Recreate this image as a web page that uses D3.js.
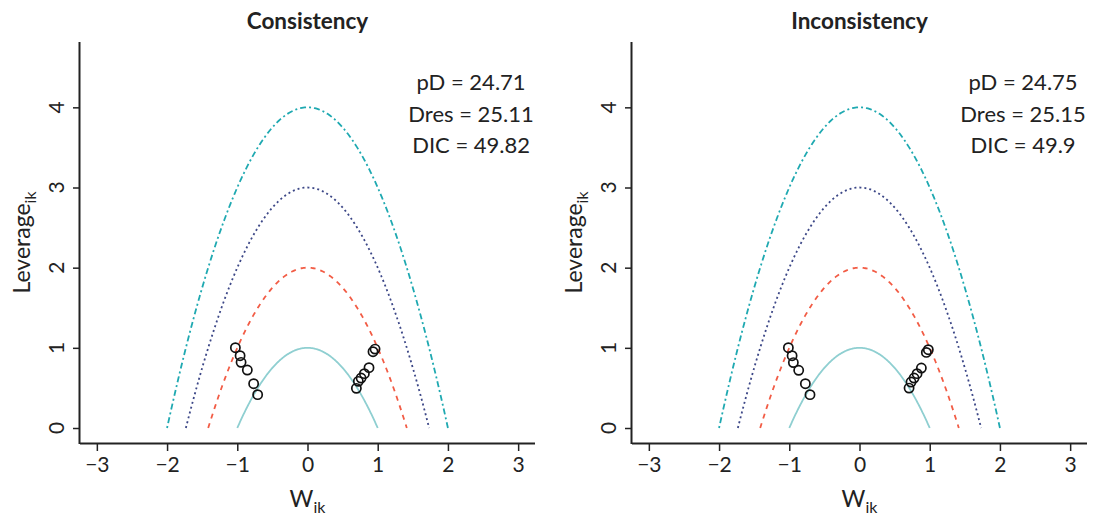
<!DOCTYPE html>
<html>
<head>
<meta charset="utf-8">
<script src="https://cdn.jsdelivr.net/npm/d3@7"></script>
<style>
  html, body { margin: 0; padding: 0; background: #fff; }
  svg { display: block; font-family: Lato, "Open Sans", sans-serif; }
</style>
</head>
<body>
<svg id="chart" width="1094" height="519"></svg>
<script>
// ---- data ----
const panelTitles = ["Consistency", "Inconsistency"];
const wConsistency   = [-1.027, -0.960, -0.946, -0.857, -0.767, -0.710, 0.962, 0.933, 0.876, 0.810, 0.763, 0.724, 0.696];
const levConsistency = [ 1.002,  0.902,  0.819,  0.723,  0.553,  0.416, 0.984, 0.952, 0.753, 0.678, 0.623, 0.582, 0.495];
const wInconsistency   = [-1.013, -0.960, -0.942, -0.866, -0.771, -0.705, 0.980, 0.952, 0.881, 0.820, 0.777, 0.734, 0.706];
const levInconsistency = [ 1.002,  0.902,  0.816,  0.720,  0.553,  0.416, 0.977, 0.943, 0.748, 0.678, 0.623, 0.573, 0.498];
const pDValues   = ["24.71", "24.75"];
const DresValues = ["25.11", "25.15"];
const DICValues  = ["49.82", "49.9"];
const xTicks = [-3, -2, -1, 0, 1, 2, 3];
const yTicks = [0, 1, 2, 3, 4];
const curveLevels = [1, 2, 3, 4];   // contours w^2 + leverage = c

// ---- styles ----
const curveStyle = {
  1: { color: "#8fcfd1", dash: null },
  2: { color: "#f25c45", dash: "5,5" },
  3: { color: "#3c4787", dash: "2,3" },
  4: { color: "#1fa9b1", dash: "2,3,6,3" }
};

const svg = d3.select("#chart");
const panelW = 455, plotTop = 42, plotBottom = 443;
const panelLefts = [80, 632];

const panels = [
  { title: panelTitles[0], w: wConsistency, lev: levConsistency, pD: pDValues[0], Dres: DresValues[0], DIC: DICValues[0] },
  { title: panelTitles[1], w: wInconsistency, lev: levInconsistency, pD: pDValues[1], Dres: DresValues[1], DIC: DICValues[1] }
];

panels.forEach((p, i) => {
  const left = panelLefts[i];
  const x = d3.scaleLinear().domain([-3.24, 3.24]).range([left, left + panelW]);
  const y = d3.scaleLinear().domain([-0.187, 4.815]).range([plotBottom, plotTop]);
  const g = svg.append("g");

  // curves
  curveLevels.forEach(c => {
    const lim = Math.sqrt(c);
    const ws = d3.range(0, 201).map(k => -lim + 2 * lim * k / 200);
    const line = d3.line().x(w => x(w)).y(w => y(c - w * w));
    const st = curveStyle[c];
    g.append("path")
      .attr("d", line(ws))
      .attr("fill", "none")
      .attr("stroke", st.color)
      .attr("stroke-width", 1.8)
      .attr("stroke-dasharray", st.dash);
  });

  // points
  g.selectAll("circle.pt").data(p.w.map((w, k) => ({ w, lev: p.lev[k] })))
    .enter().append("circle")
    .attr("class", "pt")
    .attr("cx", d => x(d.w)).attr("cy", d => y(d.lev))
    .attr("r", 4.6)
    .attr("fill", "none").attr("stroke", "#111").attr("stroke-width", 1.7);

  // axes
  const xAxis = d3.axisBottom(x).tickValues(xTicks).tickSize(8).tickPadding(6)
    .tickFormat(d => d < 0 ? "\u2212" + Math.abs(d) : d);
  const gx = g.append("g").attr("transform", `translate(0,${plotBottom})`).call(xAxis);
  gx.select(".domain").attr("d", `M${left},0.5H${left + panelW}`).attr("stroke", "#222").attr("stroke-width", 2);
  gx.selectAll(".tick line").attr("stroke", "#222").attr("stroke-width", 1.5);
  gx.selectAll(".tick text").attr("font-size", 21).attr("fill", "#222")
    .attr("font-family", "Lato").attr("dy", "0.71em");

  const yAxis = d3.axisLeft(y).tickValues(yTicks).tickSize(7).tickPadding(4);
  const gy = g.append("g").attr("transform", `translate(${left},0)`).call(yAxis);
  gy.select(".domain").attr("d", `M-0.5,${plotTop}V${plotBottom + 1}`).attr("stroke", "#222").attr("stroke-width", 2);
  gy.selectAll(".tick line").attr("stroke", "#222").attr("stroke-width", 1.5);
  gy.selectAll(".tick text").remove();
  yTicks.forEach(t => {
    g.append("text")
      .attr("transform", `translate(${left - 16},${y(t)}) rotate(-90)`)
      .attr("text-anchor", "middle")
      .attr("font-size", 21).attr("fill", "#222")
      .text(t);
  });

  // title
  g.append("text").attr("x", x(0)).attr("y", 29)
    .attr("text-anchor", "middle").attr("font-weight", "bold").attr("font-size", 22.5)
    .attr("fill", "#222").text(p.title);

  // axis labels
  const xl = g.append("text").attr("x", x(0)).attr("y", 507)
    .attr("text-anchor", "middle").attr("font-size", 23).attr("fill", "#222");
  xl.append("tspan").text("W");
  xl.append("tspan").attr("font-size", 16).attr("dy", 6).text("ik");

  const yl = g.append("text")
    .attr("transform", `translate(${left - 50},${(plotTop + plotBottom) / 2}) rotate(-90)`)
    .attr("text-anchor", "middle").attr("font-size", 23).attr("fill", "#222");
  yl.append("tspan").text("Leverage");
  yl.append("tspan").attr("font-size", 16).attr("dy", 6).text("ik");

  // annotation
  const ax = x(2.33);
  [["pD = ", p.pD, 90], ["Dres = ", p.Dres, 121.5], ["DIC = ", p.DIC, 153]].forEach(([lab, v, yy]) => {
    g.append("text").attr("x", ax).attr("y", yy).attr("text-anchor", "middle")
      .attr("font-size", 22).attr("fill", "#222").text(lab + v);
  });
});
</script>
</body>
</html>
